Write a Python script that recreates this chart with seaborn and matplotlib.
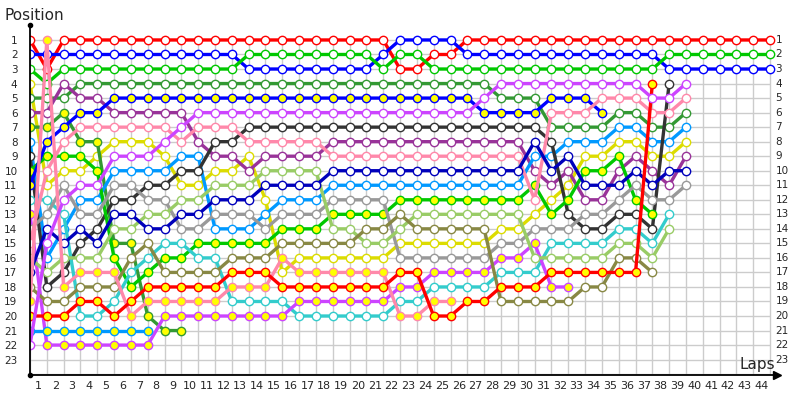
import numpy as np
import pandas as pd
import seaborn as sns
import matplotlib
matplotlib.use("Agg")
import matplotlib.pyplot as plt
import matplotlib.transforms as mtransforms

# lap chart data: position per lap, lap 0 = grid
laps = list(range(0, 45))

red_w = [1, 3] + [1] * 20 + [3, 3, 2, 2] + [1] * 19
blue_w = [2] * 13 + [3] * 8 + [2] + [1] * 4 + [2] * 12 + [3] * 7
green_w = [3, 4] + [3] * 11 + [2] * 8 + [3] + [2, 2] + [3] * 14 + [2] * 7
yellow_w = [4, 11, 10, 10, 9, 8, 8, 8, 9, 11, 11, 10, 10, 9, 12, 17, 16, 16, 16, 16,
            16, 16, 15, 15, 15, 15, 15, 15, 14, 14, 13, 12, 11, 9, 9, 8, 8, 9, 9, 8]
dkgreen_w = [5, 5, 5] + [4] * 25 + [5, 5, 5, 7, 7, 7, 7, 6, 6, 7, 7, 6]
purple_w = [6, 6, 4, 5, 5, 6, 6, 6, 6, 6, 8, 9, 9, 10, 9, 9, 9, 9] + [8] * 12 + \
           [10, 11, 10, 12, 12, 10, 9, 10, 11, 9]
dkgreen_y = [7, 7, 6, 8, 8, 15, 15, 20, 21, 21]
skyblue_w = [8, 16, 14, 12, 12, 10, 10, 10, 10, 9, 9, 14, 14, 14, 13, 12, 12, 12] + [11] * 12 + \
            [9, 9, 8, 8, 8, 7, 7, 8, 8, 7]
black_w = [9, 18, 17, 15, 14, 12, 12, 11, 11, 10, 10, 8, 8] + [7] * 18 + \
          [8, 13, 14, 14, 13, 13, 14, 4]
green_y = [10, 9, 9, 9, 10, 16, 18, 17, 16, 16, 15, 15, 15, 15, 15, 14, 14, 14, 13, 13, 13, 13] + \
          [12] * 8 + [11, 13, 12, 10, 10, 9, 12, 13]
blue_y = [11, 8, 7, 6, 6] + [5] * 22 + [6, 6, 6, 6, 5, 5, 5, 6]
cyan_w = [12, 12, 13, 20, 20, 19, 17, 16, 15, 15, 16, 16, 19, 19, 19, 19, 20, 20, 20, 20, 20, 20,
          19, 19, 18, 18, 18, 18, 17, 17, 17, 15, 15, 15, 15, 14, 14, 15, 13]
violet_y = [13] + [22] * 7 + [20] * 8 + [19] * 6 + [18, 18, 17, 17, 17, 17, 16, 16, 15, 18, 18]
gray_w = [14, 13, 11, 13, 13, 11, 11, 12, 12, 14, 14, 13, 13, 13, 14, 13, 13, 13, 12, 12, 12, 12] + \
         [16] * 6 + [15, 15, 14, 14, 14, 13, 13, 12, 11, 12, 12, 11]
pink_w = [15, 10, 8] + [7] * 6 + [8, 7, 7, 7] + [8] * 5 + [9] * 12 + \
         [12, 6, 6, 6, 5, 5, 5, 6, 6, 5]
ygreen_w = [16, 17, 16, 16, 16, 14, 14, 13, 13, 12, 12, 11, 11, 11, 10, 10, 10, 10, 14, 14, 15, 15,
            14] + [13] * 7 + [16, 16, 16, 16, 16, 15, 15, 16, 14]
navy_w = [17, 14, 15, 14, 15, 13, 13, 14, 14, 13, 13, 12, 12, 12, 11, 11, 11, 11] + [10] * 12 + \
         [8, 10, 9, 11, 11, 11, 10, 11, 10, 10]
olive_w = [18, 19, 19, 18, 18, 18, 16, 15, 17, 17, 17, 17, 16, 16, 16, 15, 15, 15, 15, 15, 14, 14,
           13, 14, 14, 14, 14, 14, 19, 19, 19, 19, 19, 18, 18, 16, 16, 17]
pink_y = [19, 1, 18, 17, 17, 17, 20, 19, 19, 19, 19, 19, 18, 18, 18, 16] + [17] * 6 + [20, 20, 19, 19]
red_y = [20, 20, 20, 19, 19, 20, 19, 18, 18, 18, 18, 18, 17, 17, 17] + [18] * 7 + \
        [17, 17, 20, 20, 19, 19, 18, 18, 18] + [17] * 6 + [4]
skyblue_y = [21] * 8
violet_w = [22, 15, 12, 11, 11, 9, 9, 9, 8, 7] + [6] * 17 + [5] + [4] * 9 + [5, 5, 4]

# (positions, line colour, marker face) in grid order
drivers = [
    (red_w, "#ff0000", "white"),
    (blue_w, "#0000ff", "white"),
    (green_w, "#00c800", "white"),
    (yellow_w, "#dcdc00", "white"),
    (dkgreen_w, "#339933", "white"),
    (purple_w, "#993399", "white"),
    (dkgreen_y, "#339933", "#ffff00"),
    (skyblue_w, "#0099ff", "white"),
    (black_w, "#333333", "white"),
    (green_y, "#00c800", "#ffff00"),
    (blue_y, "#0000ff", "#ffff00"),
    (cyan_w, "#33cccc", "white"),
    (violet_y, "#cc44ff", "#ffff00"),
    (gray_w, "#999999", "white"),
    (pink_w, "#ff88aa", "white"),
    (ygreen_w, "#99cc66", "white"),
    (navy_w, "#0000bb", "white"),
    (olive_w, "#888844", "white"),
    (pink_y, "#ff88aa", "#ffff00"),
    (red_y, "#ff0000", "#ffff00"),
    (skyblue_y, "#0099ff", "#ffff00"),
    (violet_w, "#cc44ff", "white"),
]

positions = list(range(1, 24))

sns.set_style("white")
plt.rcParams["font.family"] = ["DejaVu Sans"]

fig = plt.figure(figsize=(8, 4), dpi=100)
ax = fig.add_axes([30 / 800, 25 / 400, 747 / 800, 350 / 400])

# grid
ax.vlines(laps, 1, 24, color="#cccccc", lw=1, zorder=0)
ax.hlines(positions + [24], 0, laps[-1], color="#cccccc", lw=1, zorder=0)

for pos, col, face in drivers:
    df = pd.DataFrame({"lap": laps[:len(pos)], "pos": pos})
    sns.lineplot(data=df, x="lap", y="pos", color=col, lw=2.4, marker="o",
                 markersize=6.0, markerfacecolor=face, markeredgecolor=col,
                 markeredgewidth=1.0, estimator=None, sort=False, ax=ax,
                 solid_joinstyle="miter")

ax.set_xlim(0, 747 / 16.82)
ax.set_ylim(24.06, -0.03)

ax.set_xticks([l - 0.5 for l in laps[1:]])
ax.set_xticklabels([str(l) for l in laps[1:]], fontsize=8)
ax.set_yticks(positions)
ax.set_yticklabels([str(p) for p in positions], fontsize=7.5)
ax.tick_params(axis="y", length=0, pad=9)
ax.tick_params(axis="x", length=0, pad=4)

# right-hand position labels
trans = mtransforms.blended_transform_factory(ax.transAxes, ax.transData)
for p in positions:
    ax.text(0.998, p, str(p), transform=trans, fontsize=7.5, ha="left", va="center")

ax.set_xlabel("")
ax.set_ylabel("")
for s in ["top", "right"]:
    ax.spines[s].set_visible(False)
for s in ["left", "bottom"]:
    ax.spines[s].set_color("black")
    ax.spines[s].set_linewidth(1.3)

# axis end decorations
ax.plot([0, 0], [1, 0], transform=ax.transAxes, marker="o", ms=3, color="black",
        ls="none", clip_on=False)
ax.plot([1], [0], transform=ax.transAxes, marker=">", ms=6, color="black",
        ls="none", clip_on=False)

fig.text(5 / 800, 1 - 15 / 400, "Position", fontsize=11, va="center", ha="left")
fig.text(775 / 800, 1 - 364 / 400, "Laps", fontsize=11, va="center", ha="right")

fig.savefig("out.png", dpi=100)
